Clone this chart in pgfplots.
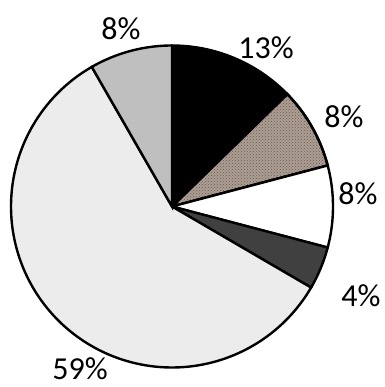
\documentclass[border=0pt]{standalone}
\usepackage{pgfplots}
\pgfplotsset{compat=1.18}
\usepackage{pgfplotstable}
\usetikzlibrary{patterns}
\usepackage{fontspec}
\setmainfont{Carlito}
\definecolor{cBrown}{RGB}{172,158,146}
\definecolor{cBrownDot}{RGB}{105,90,78}
\definecolor{cLight}{RGB}{236,236,236}
\definecolor{cGray}{RGB}{191,191,191}
\definecolor{cDark}{RGB}{64,64,64}
% percentages (slice sizes, clockwise from 12 o'clock)
\pgfplotstableread{
share
12.7
8.2
8.2
4.3
58.3
8.3
}\pietable
\pgfplotstablegetelem{0}{share}\of\pietable \let\pA\pgfplotsretval
\pgfplotstablegetelem{1}{share}\of\pietable \let\pB\pgfplotsretval
\pgfplotstablegetelem{2}{share}\of\pietable \let\pC\pgfplotsretval
\pgfplotstablegetelem{3}{share}\of\pietable \let\pD\pgfplotsretval
\pgfplotstablegetelem{4}{share}\of\pietable \let\pE\pgfplotsretval
\pgfplotstablegetelem{5}{share}\of\pietable \let\pF\pgfplotsretval
\pgfmathsetmacro\aA{90}
\pgfmathsetmacro\aB{\aA-3.6*\pA}
\pgfmathsetmacro\aC{\aB-3.6*\pB}
\pgfmathsetmacro\aD{\aC-3.6*\pC}
\pgfmathsetmacro\aE{\aD-3.6*\pD}
\pgfmathsetmacro\aF{\aE-3.6*\pE}
\pgfmathsetmacro\aG{\aF-3.6*\pF}
\begin{document}
\begin{tikzpicture}
\begin{axis}[
  scale only axis, width=384pt, height=387pt,
  xmin=0, xmax=384, ymin=0, ymax=387,
  hide axis, clip=false,
]
\def\cx{172}\def\cy{180.5}\def\R{161}
\addplot[draw=black, line width=2.4pt, fill=black, domain=\aA:\aB, samples=60, variable=\t]
  ({\cx+\R*cos(t)},{\cy+\R*sin(t)}) -- (axis cs:\cx,\cy) -- cycle;
\addplot[draw=black, line width=2.4pt, fill=cBrown, postaction={pattern=crosshatch dots, pattern color=cBrownDot}, domain=\aB:\aC, samples=60, variable=\t]
  ({\cx+\R*cos(t)},{\cy+\R*sin(t)}) -- (axis cs:\cx,\cy) -- cycle;
\addplot[draw=black, line width=2.4pt, fill=white, domain=\aC:\aD, samples=60, variable=\t]
  ({\cx+\R*cos(t)},{\cy+\R*sin(t)}) -- (axis cs:\cx,\cy) -- cycle;
\addplot[draw=black, line width=2.4pt, fill=cDark, domain=\aD:\aE, samples=60, variable=\t]
  ({\cx+\R*cos(t)},{\cy+\R*sin(t)}) -- (axis cs:\cx,\cy) -- cycle;
\addplot[draw=black, line width=2.4pt, fill=cLight, domain=\aE:\aF, samples=150, variable=\t]
  ({\cx+\R*cos(t)},{\cy+\R*sin(t)}) -- (axis cs:\cx,\cy) -- cycle;
\addplot[draw=black, line width=2.4pt, fill=cGray, domain=\aF:\aG, samples=60, variable=\t]
  ({\cx+\R*cos(t)},{\cy+\R*sin(t)}) -- (axis cs:\cx,\cy) -- cycle;
\begin{scope}[font=\fontsize{32}{36}\selectfont, every node/.style={inner sep=0pt}]
\node at (axis cs:266,339) {13\%};
\node at (axis cs:121,358) {8\%};
\node at (axis cs:344,270) {8\%};
\node at (axis cs:358,193) {8\%};
\node at (axis cs:361,91) {4\%};
\node at (axis cs:80,18) {59\%};
\end{scope}
\end{axis}
\path (current axis.south west) rectangle (current axis.north east);
\end{tikzpicture}
\end{document}
